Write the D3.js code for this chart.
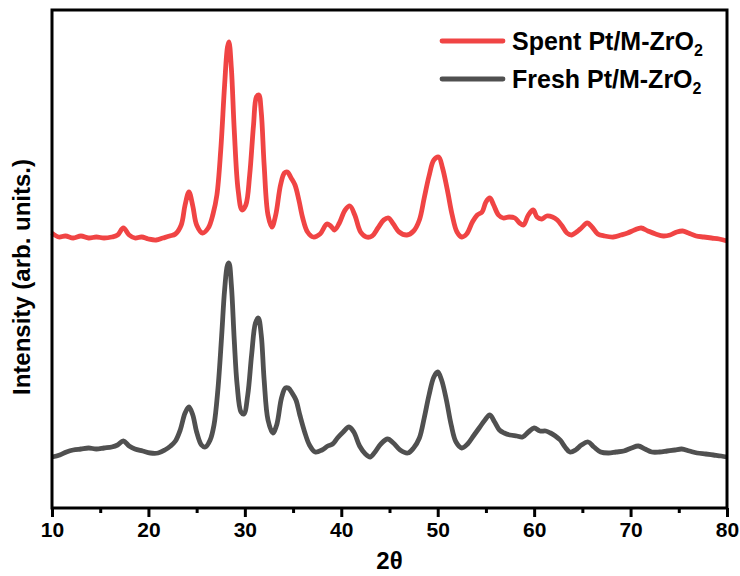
<!DOCTYPE html>
<html>
<head>
<meta charset="utf-8">
<script src="https://cdn.jsdelivr.net/npm/d3@7"></script>
<style>
  body { margin: 0; background: #fff; }
  text { font-family: "Liberation Sans", Arial, sans-serif; font-weight: bold; }
</style>
</head>
<body>
<div id="chart"></div>
<script>
var spentTheta = [10.0,10.7,11.4,12.2,13.0,13.8,14.6,15.4,16.2,16.8,17.4,18.0,18.6,19.3,20.0,20.8,21.5,22.2,22.8,23.4,23.8,24.2,24.6,25.0,25.6,26.2,26.7,27.1,27.5,27.9,28.2,28.35,28.6,28.9,29.3,29.7,30.1,30.5,30.9,31.2,31.45,31.7,32.0,32.4,32.8,33.2,33.7,34.1,34.4,34.8,35.2,35.6,36.0,36.5,37.1,37.8,38.5,38.9,39.3,39.8,40.4,40.9,41.4,42.0,42.6,43.2,43.8,44.4,44.9,45.4,46.0,46.8,47.5,48.1,48.6,49.1,49.6,50.1,50.5,51.0,51.5,52.0,52.5,53.0,53.6,54.1,54.6,55.0,55.4,55.8,56.3,56.8,57.4,58.0,58.5,58.9,59.4,59.9,60.3,60.8,61.3,61.9,62.4,62.9,63.4,63.9,64.4,64.9,65.5,66.0,66.6,67.3,68.2,69.0,69.7,70.4,71.1,71.8,72.6,73.4,74.1,74.8,75.4,76.0,76.8,77.6,78.4,79.2,80.0];
var spentIntensity = [275,271,272,270,272,270,271,270,271,273,280,273,270,271,269,268,270,272,274,283,303,316,302,283,275,280,294,313,358,423,461,466,440,378,318,298,303,333,383,411,413,396,343,293,281,293,323,335,336,330,323,308,290,276,271,274,284,282,278,285,298,302,293,276,271,272,280,288,290,284,276,273,277,288,310,332,348,351,340,318,293,276,271,274,286,293,296,306,310,303,293,290,291,290,285,283,293,298,291,289,292,291,288,282,275,273,276,280,285,281,274,272,271,273,275,278,280,277,274,272,273,276,277,275,272,271,270,269,267];

var freshTheta = [10.0,10.8,11.5,12.2,13.0,13.8,14.6,15.4,16.2,16.8,17.4,18.0,18.6,19.4,20.2,21.0,21.7,22.3,22.8,23.3,23.8,24.2,24.6,25.0,25.5,25.9,26.4,26.8,27.2,27.6,27.9,28.2,28.35,28.6,28.9,29.2,29.6,29.9,30.3,30.7,31.1,31.4,31.7,32.0,32.4,32.9,33.3,33.8,34.2,34.5,34.9,35.3,35.7,36.2,36.7,37.3,38.0,38.6,39.1,39.6,40.2,40.8,41.3,41.9,42.5,43.0,43.5,44.1,44.8,45.4,46.1,46.9,47.5,48.1,48.6,49.1,49.6,50.0,50.4,50.9,51.4,51.9,52.5,53.1,53.7,54.3,54.9,55.4,55.9,56.4,56.9,57.5,58.2,58.8,59.4,60.0,60.6,61.2,61.7,62.2,62.7,63.2,63.7,64.3,64.9,65.6,66.2,66.9,67.7,68.5,69.3,70.1,70.8,71.5,72.2,73.0,73.8,74.6,75.3,76.1,76.9,77.8,78.6,79.4,80.0];
var freshIntensity = [51,53,56,58,59,60,59,60,61,63,67,62,59,57,55,55,58,62,67,78,95,101,93,76,63,61,68,83,118,173,218,243,245,223,168,123,96,94,113,153,185,190,173,128,88,75,83,110,120,120,115,108,93,76,63,56,58,62,64,70,76,81,76,62,54,51,56,64,69,65,58,55,60,70,90,113,131,136,128,108,83,66,60,64,72,80,88,93,86,78,75,73,72,71,76,80,77,77,75,72,68,61,56,58,63,66,61,56,55,56,57,60,62,59,56,56,57,58,59,57,55,54,53,52,51];

var xTicks = [10, 20, 30, 40, 50, 60, 70, 80];
var xMinorTicks = [15, 25, 35, 45, 55, 65, 75];
var seriesNames = ["Spent Pt/M-ZrO", "Fresh Pt/M-ZrO"];
var seriesColors = ["#f04444", "#505050"];

var m = {top: 10, right: 13, bottom: 68, left: 52}
    , W = 740, H = 576
    , w = W - m.left - m.right
    , h = H - m.top - m.bottom;

var svg = d3.select("#chart").append("svg")
    .attr("width", W)
    .attr("height", H)
    .append("g")
    .attr("transform", "translate(" + m.left + "," + m.top + ")");

var x = d3.scaleLinear().domain([10, 80]).range([0, w]);
var y = d3.scaleLinear().domain([0, 498]).range([h, 0]);

var line = d3.line()
    .x(function(d) { return x(d[0]); })
    .y(function(d) { return y(d[1]); })
    .curve(d3.curveCatmullRom);

var fresh = freshTheta.map(function(t, i) { return [t, freshIntensity[i]]; });
var spent = spentTheta.map(function(t, i) { return [t, spentIntensity[i]]; });

svg.append("path").datum(fresh)
    .attr("fill", "none").attr("stroke", seriesColors[1])
    .attr("stroke-width", 4.8).attr("stroke-linejoin", "round")
    .attr("d", line);

svg.append("path").datum(spent)
    .attr("fill", "none").attr("stroke", seriesColors[0])
    .attr("stroke-width", 4.8).attr("stroke-linejoin", "round")
    .attr("d", line);

// x axis, major + minor ticks
var xAxis = svg.append("g")
    .attr("transform", "translate(0," + h + ")")
    .call(d3.axisBottom(x).tickValues(xTicks).tickSize(9).tickPadding(5).tickFormat(d3.format("d")));
xAxis.select(".domain").remove();
xAxis.selectAll(".tick line").attr("stroke", "#000").attr("stroke-width", 3);
xAxis.selectAll(".tick text").attr("font-size", 21).attr("fill", "#000");

var xMinor = svg.append("g")
    .attr("transform", "translate(0," + h + ")")
    .call(d3.axisBottom(x).tickValues(xMinorTicks).tickSize(5).tickFormat(""));
xMinor.select(".domain").remove();
xMinor.selectAll(".tick line").attr("stroke", "#000").attr("stroke-width", 3);

// frame
svg.append("rect")
    .attr("x", 0).attr("y", 0)
    .attr("width", w).attr("height", h)
    .attr("fill", "none").attr("stroke", "#000").attr("stroke-width", 3);

// axis titles
svg.append("text")
    .attr("x", w / 2).attr("y", h + 61)
    .attr("text-anchor", "middle")
    .attr("font-size", 24)
    .text("2θ");

svg.append("text")
    .attr("transform", "rotate(-90)")
    .attr("x", -(277 - m.top)).attr("y", -22)
    .attr("text-anchor", "middle")
    .attr("font-size", 24)
    .text("Intensity (arb. units.)");

// legend
var legend = svg.selectAll(".legend")
    .data(seriesNames)
    .enter().append("g")
    .attr("class", "legend")
    .attr("transform", function(d, i) { return "translate(390," + (31 + i * 38) + ")"; });

legend.append("line")
    .attr("x1", 0).attr("x2", 61)
    .attr("stroke", function(d, i) { return seriesColors[i]; })
    .attr("stroke-width", 4.8).attr("stroke-linecap", "round");

var lt = legend.append("text")
    .attr("x", 70).attr("y", 9)
    .attr("font-size", 25)
    .attr("fill", "#000");
lt.append("tspan").text(function(d) { return d; });
lt.append("tspan").attr("font-size", 16).attr("dy", 6).text("2");
</script>
</body>
</html>
